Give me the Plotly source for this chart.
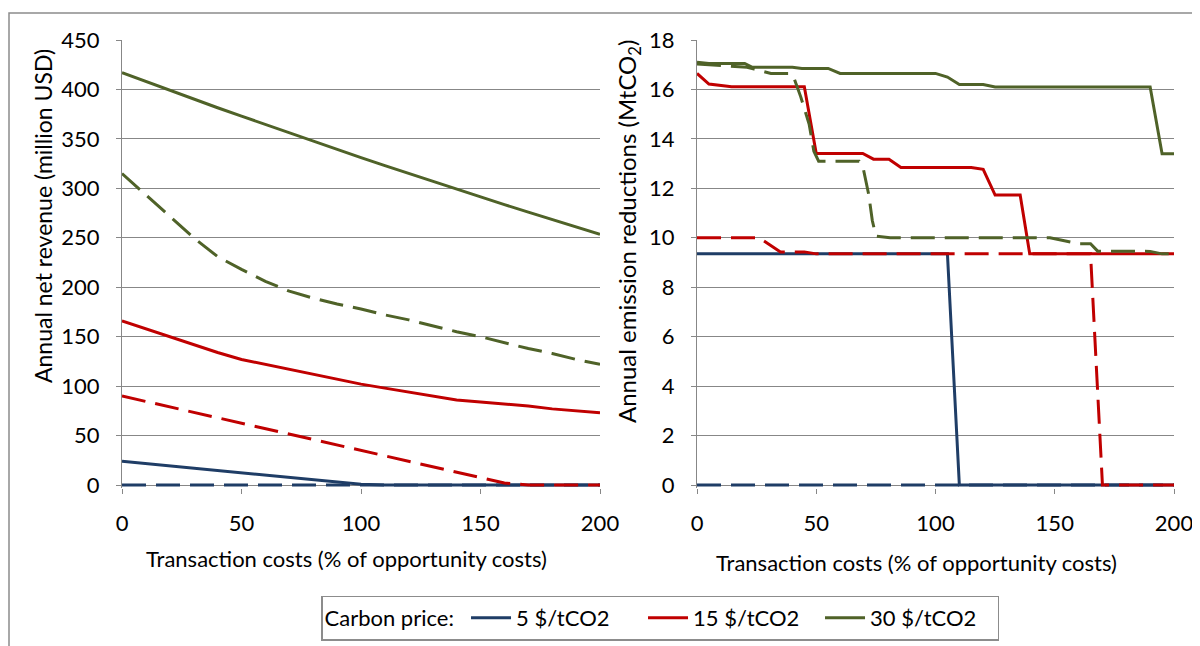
import plotly.graph_objects as go

# ---------------- data ----------------
# Left panel: annual net revenue (million USD) vs transaction costs (%)
x_rev = [0, 10, 20, 30, 40, 50, 60, 70, 80, 90, 100, 110, 120, 130, 140, 150, 160, 170, 180, 190, 200]
rev5_solid = [24, 21.7, 19.3, 16.9, 14.4, 12, 9.6, 7.2, 4.9, 2.6, 0.8, 0, 0, 0, 0, 0, 0, 0, 0, 0, 0]
rev5_dash = [0] * 21
rev15_solid = [166, 158, 150, 142, 134, 127, 122, 117, 112, 107, 102, 98, 94, 90, 86, 84, 82, 80, 77, 75, 73]
rev15_dash = [90, 84.5, 79, 73.5, 68, 62.5, 57, 51.5, 46, 40.5, 35, 29.5, 24, 18.5, 13, 7.5, 2, 0, 0, 0, 0]
rev30_solid = [417, 408, 399.5, 390.5, 381.5, 373, 364.5, 356, 347.5, 339, 331, 323, 315, 307, 299, 291, 283.5, 276, 268.5, 261, 253.5]
rev30_dash = [315, 293, 271, 250, 231, 218, 206, 196, 189, 183, 178, 172, 167, 161, 155, 150, 144, 138, 133, 127, 122]

# Right panel: annual emission reductions (MtCO2) vs transaction costs (%)
em5_solid_x = [0, 105, 110, 200]
em5_solid_y = [9.35, 9.35, 0, 0]
em5_dash_x = [0, 200]
em5_dash_y = [0, 0]
em15_solid_x = [0, 5, 14.5, 45, 50, 69.5, 74, 80.5, 85.5, 115, 120, 125, 135.5, 139.5, 200]
em15_solid_y = [16.65, 16.22, 16.11, 16.11, 13.41, 13.41, 13.18, 13.18, 12.84, 12.84, 12.77, 11.73, 11.73, 9.35, 9.35]
em15_dash_x = [0, 26, 35, 45, 50, 165, 170, 200]
em15_dash_y = [10.0, 10.0, 9.43, 9.43, 9.35, 9.35, 0, 0]
em30_solid_x = [0, 5, 20, 23, 40, 44, 55, 60, 100, 105, 110, 120, 125, 190, 195, 200]
em30_solid_y = [17.1, 17.05, 17.05, 16.9, 16.9, 16.85, 16.85, 16.65, 16.65, 16.5, 16.2, 16.2, 16.1, 16.1, 13.4, 13.4]
em30_dash_x = [0, 21, 24, 31, 39, 40.5, 43.5, 47, 49, 51, 68, 69.5, 72, 73.5, 75, 81, 148, 160, 165, 168, 190, 195, 200]
em30_dash_y = [17.03, 16.9, 16.82, 16.65, 16.65, 16.5, 15.7, 14.6, 13.5, 13.1, 13.1, 12.9, 11.75, 10.7, 10.07, 10.0, 10.0, 9.76, 9.76, 9.46, 9.45, 9.35, 9.35]

series_names = ["5 $/tCO2", "15 $/tCO2", "30 $/tCO2"]
x_ticks = [0, 50, 100, 150, 200]
rev_ticks = [0, 50, 100, 150, 200, 250, 300, 350, 400, 450]
em_ticks = [0, 2, 4, 6, 8, 10, 12, 14, 16, 18]

# ---------------- styling ----------------
# the page body has an 8px margin, so the figure is sized and positioned to compensate
OFF = 8
W, H = 1200 - OFF, 646 - OFF
BLUE, RED, GREEN = "#1F3D66", "#C00000", "#4F6228"
GRID = "#878787"
FONT = "Lato"
DASH = "24px,10px"

def px_x(p):
    return (p - OFF) / W

def px_y(p):
    return 1 - (p - OFF) / H

fig = go.Figure()

left = [(rev5_solid, rev5_dash, BLUE, series_names[0]),
        (rev15_solid, rev15_dash, RED, series_names[1]),
        (rev30_solid, rev30_dash, GREEN, series_names[2])]
for solid, dash, col, name in left:
    fig.add_trace(go.Scatter(x=x_rev, y=solid, mode="lines", name=name, legendgroup=name,
                             line=dict(color=col, width=3), xaxis="x", yaxis="y", showlegend=True))
    fig.add_trace(go.Scatter(x=x_rev, y=dash, mode="lines", name=name, legendgroup=name,
                             line=dict(color=col, width=3, dash=DASH), xaxis="x", yaxis="y", showlegend=False))

right = [(em5_solid_x, em5_solid_y, em5_dash_x, em5_dash_y, BLUE, series_names[0]),
         (em15_solid_x, em15_solid_y, em15_dash_x, em15_dash_y, RED, series_names[1]),
         (em30_solid_x, em30_solid_y, em30_dash_x, em30_dash_y, GREEN, series_names[2])]
for sx, sy, dx, dy, col, name in right:
    fig.add_trace(go.Scatter(x=sx, y=sy, mode="lines", name=name, legendgroup=name,
                             line=dict(color=col, width=3), xaxis="x2", yaxis="y2", showlegend=False))
    fig.add_trace(go.Scatter(x=dx, y=dy, mode="lines", name=name, legendgroup=name,
                             line=dict(color=col, width=3, dash=DASH), xaxis="x2", yaxis="y2", showlegend=False))

ydom = [px_y(487.5), px_y(40)]
tickfont = dict(family=FONT, size=22, color="black")

xaxis_common = dict(range=[0, 200], tickvals=x_ticks, showgrid=False, zeroline=False, showline=False,
                    ticks="outside", ticklen=5, tickcolor=GRID, tickwidth=1, tickfont=tickfont,
                    ticklabelstandoff=11, automargin=False)
yaxis_common = dict(showgrid=True, gridcolor=GRID, gridwidth=1, zeroline=True, zerolinecolor=GRID,
                    zerolinewidth=1, showline=True, linecolor=GRID, linewidth=1, ticks="outside",
                    ticklen=5, tickcolor=GRID, tickwidth=1, tickfont=tickfont, ticklabelstandoff=12,
                    automargin=False)

fig.update_layout(
    width=W, height=H,
    margin=dict(l=0, r=0, t=0, b=0, autoexpand=False),
    paper_bgcolor="white", plot_bgcolor="white",
    font=dict(family=FONT, size=22, color="black"),
    xaxis=dict(domain=[px_x(122), px_x(600)], anchor="y", **xaxis_common),
    yaxis=dict(domain=ydom, anchor="x", range=[-2.5, 450], tickvals=rev_ticks, **yaxis_common),
    xaxis2=dict(domain=[px_x(697), px_x(1174)], anchor="y2", **xaxis_common),
    yaxis2=dict(domain=ydom, anchor="x2", range=[-0.1, 18], tickvals=em_ticks, **yaxis_common),
    legend=dict(orientation="h", x=px_x(660), y=px_y(618), xanchor="center", yanchor="middle",
                bordercolor="#8C8C8C", borderwidth=1.5, bgcolor="white",
                font=dict(family=FONT, size=22, color="black"),
                title=dict(text="Carbon price: ", font=dict(family=FONT, size=22, color="black")),
                itemwidth=40, entrywidth=122, entrywidthmode="pixels"),
    shapes=[dict(type="rect", xref="paper", yref="paper", x0=px_x(9), y0=px_y(13), x1=1.05, y1=-0.05,
                 line=dict(color="#8C8C8C", width=1.5), fillcolor="rgba(0,0,0,0)", layer="below")],
    annotations=[
        dict(text="Transaction costs (% of opportunity costs)", xref="paper", yref="paper",
             x=px_x(346), y=px_y(558), xanchor="center", yanchor="middle", showarrow=False,
             font=dict(family=FONT, size=22, color="black")),
        dict(text="Transaction costs (% of opportunity costs)", xref="paper", yref="paper",
             x=px_x(916), y=px_y(562), xanchor="center", yanchor="middle", showarrow=False,
             font=dict(family=FONT, size=22, color="black")),
        dict(text="Annual net revenue (million USD)", xref="paper", yref="paper",
             x=px_x(43), y=px_y(216), xanchor="center", yanchor="middle", showarrow=False, textangle=-90,
             font=dict(family=FONT, size=23, color="black")),
        dict(text="Annual emission reductions (MtCO<sub>2</sub>)", xref="paper", yref="paper",
             x=px_x(628), y=px_y(231), xanchor="center", yanchor="middle", showarrow=False, textangle=-90,
             font=dict(family=FONT, size=24, color="black")),
    ],
)

fig.write_html("out.html")
